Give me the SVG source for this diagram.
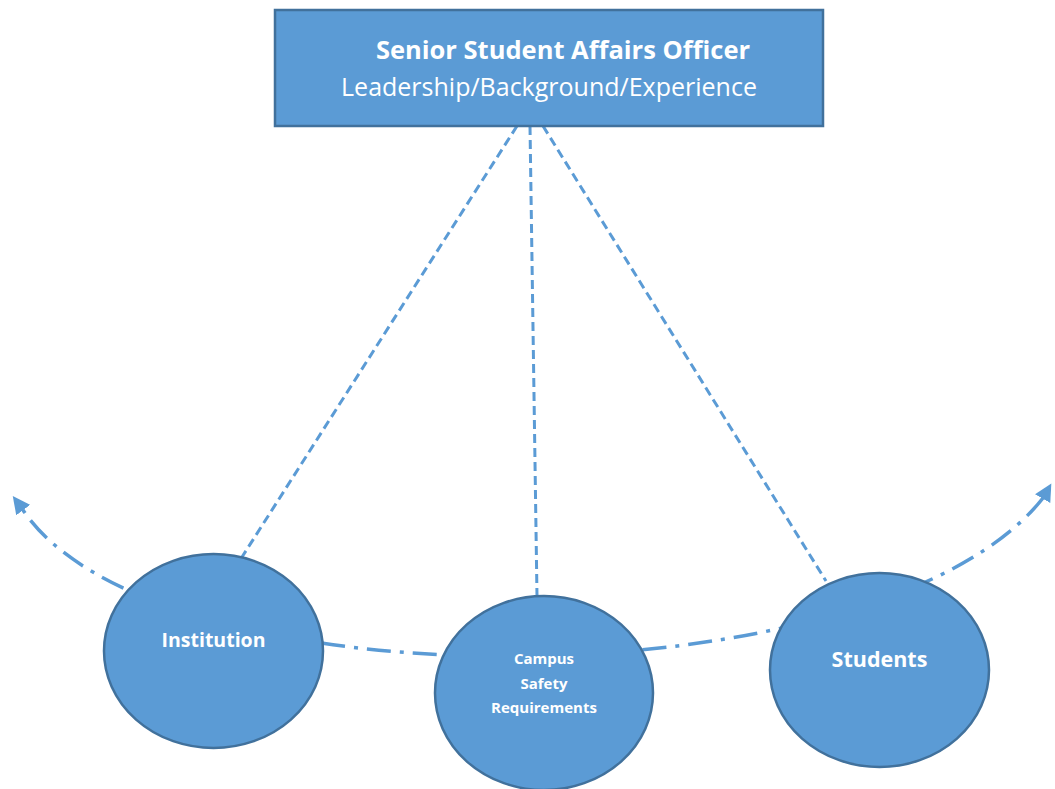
<svg xmlns="http://www.w3.org/2000/svg" width="1055" height="789" viewBox="0 0 1055 789">
<defs>
<style>
.node{fill:#5B9BD5;stroke:#41719C;stroke-width:2.5}
.t{fill:#fff;font-family:"Open Sans","Liberation Sans",sans-serif;text-anchor:middle}
.b{font-weight:bold}
.dash{fill:none;stroke:#5B9BD5;stroke-width:3;stroke-dasharray:9 5}
.dd{fill:none;stroke:#5B9BD5;stroke-width:3.5;stroke-dasharray:24 9 4 9}
</style>
<marker id="ah" viewBox="0 0 10 10" refX="5" refY="5" markerWidth="5" markerHeight="5" orient="auto" markerUnits="strokeWidth">
<path d="M0,0 L10,5 L0,10 Z" fill="#5B9BD5"/>
</marker>
</defs>
<rect width="1055" height="789" fill="#fff"/>
<g id="connectors">
<path class="dash" d="M517,126 L242,557"/>
<path class="dash" d="M530,126 L537,596"/>
<path class="dash" d="M543,126 L826,581"/>
<path class="dd" d="M1043,498 C 880,705 150,710 21,507"/>
<path class="dd" d="M21,507 L 18,503" marker-end="url(#ah)" style="stroke-dasharray:none"/>
<path class="dd" d="M1043,498 L 1047,491" marker-end="url(#ah)" style="stroke-dasharray:none"/>
</g>
<g id="officer">
<rect class="node" x="275" y="10" width="548" height="116"/>
<text class="t b" x="563" y="59" font-size="25.5">Senior Student Affairs Officer</text>
<text class="t" x="549" y="96" font-size="25">Leadership/Background/Experience</text>
</g>
<g id="institution">
<ellipse class="node" cx="213.5" cy="651" rx="109.5" ry="97"/>
<text class="t b" x="213.5" y="647" font-size="19.5">Institution</text>
</g>
<g id="campus">
<ellipse class="node" cx="544" cy="693" rx="109" ry="97"/>
<text class="t b" x="544" y="664" font-size="15">Campus</text>
<text class="t b" x="544" y="689" font-size="15">Safety</text>
<text class="t b" x="544" y="713" font-size="15">Requirements</text>
</g>
<g id="students">
<ellipse class="node" cx="879.5" cy="670" rx="109.5" ry="97"/>
<text class="t b" x="879.5" y="667" font-size="21.5">Students</text>
</g>
</svg>
